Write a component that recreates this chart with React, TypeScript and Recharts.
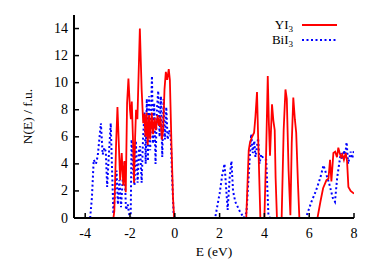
import { LineChart, Line, XAxis, YAxis } from "recharts";

// energy axis (eV) and density of states axis
const energyTicks = [-4, -2, 0, 2, 4, 6, 8];
const dosTicks = [0, 2, 4, 6, 8, 10, 12, 14];

// YI3 density of states
const yi3Energy = [
  -2.74, -2.7, -2.62, -2.56, -2.5, -2.44, -2.37, -2.3, -2.25, -2.19,
  -2.13, -2.07, -2.0, -1.96, -1.92, -1.87, -1.82, -1.77, -1.73, -1.67,
  -1.56, -1.48, -1.41, -1.36, -1.31, -1.26, -1.21, -1.15, -1.1, -1.03,
  -0.97, -0.9, -0.84, -0.77, -0.7, -0.64, -0.58, -0.52, -0.46, -0.4,
  -0.34, -0.27, -0.22, -0.15, -0.08, -0.03, 3.19, 3.3, 3.36, 3.45,
  3.54, 3.6, 3.67, 3.72, 3.82, 4.0, 4.08, 4.15, 4.2, 4.25,
  4.34, 4.4, 4.46, 4.5, 4.56, 4.77, 4.86, 4.94, 5.0, 5.08,
  5.16, 5.22, 5.29, 5.36, 5.42, 5.5, 5.56, 6.37, 6.5, 6.62,
  6.77, 6.86, 6.93, 6.99, 7.08, 7.16, 7.24, 7.3, 7.36, 7.42,
  7.48, 7.55, 7.63, 7.69, 7.75, 7.85, 8.0,
];
const yi3Dos = [
  0, 0.5, 5.5, 8.2, 5.5, 2.8, 4.8, 2.4, 4.2, 1.9,
  8.5, 10.3, 8.0, 7.3, 8.6, 6.0, 2.6, 6.0, 8.0, 7.3,
  14.0, 9.5, 7.0, 7.7, 6.0, 7.8, 5.4, 7.6, 5.8, 7.8,
  6.2, 7.4, 6.5, 7.6, 6.8, 7.5, 5.8, 6.5, 9.5, 10.8,
  10.2, 11.0, 10.2, 5.5, 1.5, 0, 0, 5.0, 5.6, 6.0,
  6.3, 7.5, 9.3, 6.0, 0, 0, 5.0, 10.5, 7.0, 4.6,
  8.4, 7.2, 6.5, 3.0, 0, 0, 6.5, 9.5, 8.8, 3.5,
  0.2, 5.5, 8.9, 7.3, 6.3, 2.5, 0, 0, 1.2, 2.2,
  2.8, 2.9, 4.3, 2.7, 4.8, 4.9, 4.5, 5.2, 4.8, 4.5,
  4.7, 4.3, 4.8, 4.2, 2.3, 2.0, 1.8,
];

// BiI3 density of states
const bii3Energy = [
  -3.78, -3.7, -3.62, -3.52, -3.44, -3.3, -3.22, -3.14, -3.08, -3.02,
  -2.95, -2.86, -2.8, -2.74, -2.66, -2.6, -2.54, -2.47, -2.4, -2.32,
  -2.25, -2.18, -2.1, -2.02, -1.97, -1.93, -1.86, -1.8, -1.74, -1.66,
  -1.6, -1.55, -1.48, -1.42, -1.35, -1.3, -1.25, -1.2, -1.15, -1.1,
  -1.02, -0.97, -0.92, -0.86, -0.8, -0.74, -0.68, -0.62, -0.56, -0.5,
  -0.44, -0.38, -0.32, -0.25, -0.18, -0.12, -0.05, 0.0, 1.8, 2.0,
  2.12, 2.22, 2.3, 2.36, 2.45, 2.53, 2.6, 2.7, 2.9, 3.08,
  3.2, 3.3, 3.41, 3.48, 3.55, 3.6, 3.66, 3.72, 3.78, 3.86,
  3.95, 4.08, 4.18, 4.25, 5.85, 6.1, 6.3, 6.5, 6.64, 6.75,
  6.9, 7.05, 7.15, 7.25, 7.41, 7.48, 7.56, 7.6, 7.67, 7.74,
  7.85, 7.92, 8.0,
];
const bii3Dos = [
  0, 1.5, 4.3, 4.0, 4.6, 7.0, 4.7, 5.2, 4.9, 2.3,
  4.5, 7.0, 3.5, 0.3, 2.2, 3.5, 1.0, 2.8, 0.8, 3.0,
  4.1, 0.6, 1.0, 0.1, 0, 5.8, 3.5, 2.4, 5.7, 2.6,
  5.0, 5.3, 2.6, 5.8, 7.8, 4.0, 8.8, 4.2, 9.0, 5.0,
  10.5, 5.5, 8.5, 4.0, 8.0, 9.4, 6.0, 9.0, 4.5, 8.8,
  5.8, 8.2, 5.8, 6.5, 6.0, 3.0, 0.2, 0, 0, 1.8,
  3.2, 4.0, 2.0, 0.6, 3.0, 4.2, 2.0, 1.2, 0.5, 0,
  0.4, 3.2, 6.2, 4.8, 5.7, 4.5, 5.2, 5.9, 4.0, 4.7,
  4.4, 4.3, 0.2, 0, 0, 1.2, 2.0, 3.0, 3.9, 3.3,
  2.5, 1.5, 1.2, 3.0, 4.8, 4.3, 5.0, 4.5, 5.6, 4.0,
  4.9, 4.4, 5.0,
];

const toPoints = (es: number[], ns: number[]) => es.map((e, i) => ({ e, n: ns[i] }));

const series = [
  { name: "YI", color: "#ff0000", dash: undefined, points: toPoints(yi3Energy, yi3Dos) },
  { name: "BiI", color: "#0000ff", dash: "2 2.5", points: toPoints(bii3Energy, bii3Dos) },
];

const FONT = '"Liberation Serif", "Times New Roman", "DejaVu Serif", serif';
const TICK = 5;
const textStyle = { fontFamily: FONT };

function BottomTick({ x, y, payload }: any) {
  return (
    <g>
      <line x1={x} y1={y} x2={x} y2={y - TICK} stroke="#000" strokeWidth={1.5} />
      <text x={x} y={y + 19.5} textAnchor="middle" style={textStyle} fontSize={14} fill="#000">
        {payload.value}
      </text>
    </g>
  );
}

function TopTick({ x, y }: any) {
  return <line x1={x} y1={y} x2={x} y2={y + TICK} stroke="#000" strokeWidth={1.5} />;
}

function LeftTick({ x, y, payload }: any) {
  return (
    <g>
      <line x1={x} y1={y} x2={x + TICK} y2={y} stroke="#000" strokeWidth={1.5} />
      <text x={x - 6} y={y + 4.5} textAnchor="end" style={textStyle} fontSize={14} fill="#000">
        {payload.value}
      </text>
    </g>
  );
}

function RightTick({ x, y }: any) {
  return <line x1={x} y1={y} x2={x - TICK} y2={y} stroke="#000" strokeWidth={1.5} />;
}

const frame = { stroke: "#000", strokeWidth: 2 };

export default function App() {
  return (
    <div style={{ position: "relative", width: 374, height: 262, background: "#fff" }}>
      <style>{"body{margin:0}"}</style>
      <LineChart width={374} height={262} margin={{ top: 15, right: 20, bottom: 14, left: 0 }}>
        <XAxis
          xAxisId="bottom"
          dataKey="e"
          type="number"
          domain={[-4.5, 8]}
          ticks={energyTicks}
          allowDataOverflow
          height={30}
          tickSize={0}
          tickMargin={0}
          tickLine={false}
          axisLine={frame}
          tick={<BottomTick />}
        />
        <XAxis
          xAxisId="top"
          orientation="top"
          dataKey="e"
          type="number"
          domain={[-4.5, 8]}
          ticks={energyTicks}
          allowDataOverflow
          height={0}
          tickSize={0}
          tickMargin={0}
          tickLine={false}
          axisLine={frame}
          tick={<TopTick />}
        />
        <YAxis
          yAxisId="left"
          type="number"
          domain={[0, 15]}
          ticks={dosTicks}
          allowDataOverflow
          width={74}
          tickSize={0}
          tickMargin={0}
          tickLine={false}
          axisLine={frame}
          tick={<LeftTick />}
        />
        <YAxis
          yAxisId="right"
          orientation="right"
          type="number"
          domain={[0, 15]}
          ticks={dosTicks}
          allowDataOverflow
          width={0}
          tickSize={0}
          tickMargin={0}
          tickLine={false}
          axisLine={frame}
          tick={<RightTick />}
        />
        <Line
          xAxisId="top"
          yAxisId="right"
          data={series[1].points}
          dataKey="n"
          type="linear"
          stroke={series[1].color}
          strokeWidth={2}
          strokeDasharray={series[1].dash}
          dot={false}
          isAnimationActive={false}
        />
        <Line
          xAxisId="bottom"
          yAxisId="left"
          data={series[0].points}
          dataKey="n"
          type="linear"
          stroke={series[0].color}
          strokeWidth={1.8}
          dot={false}
          isAnimationActive={false}
        />
      </LineChart>
      <svg
        width={374}
        height={262}
        style={{ position: "absolute", left: 0, top: 0, pointerEvents: "none", fontFamily: FONT }}
      >
        <text x={27} y={116.5} transform="rotate(-90 27 116.5)" textAnchor="middle" dominantBaseline="central" fontSize={13.5}>
          N(E) / f.u.
        </text>
        <text x={214} y={256} textAnchor="middle" fontSize={13.5}>
          E (eV)
        </text>
        {series.map((s, i) => (
          <g key={s.name}>
            <text x={293} y={29 + i * 15} textAnchor="end" fontSize={13}>
              {s.name}
              <tspan dy={3} fontSize={9}>3</tspan>
            </text>
            <line
              x1={302}
              x2={337}
              y1={25 + i * 15}
              y2={25 + i * 15}
              stroke={s.color}
              strokeWidth={s.dash ? 2 : 1.8}
              strokeDasharray={s.dash}
            />
          </g>
        ))}
      </svg>
    </div>
  );
}
